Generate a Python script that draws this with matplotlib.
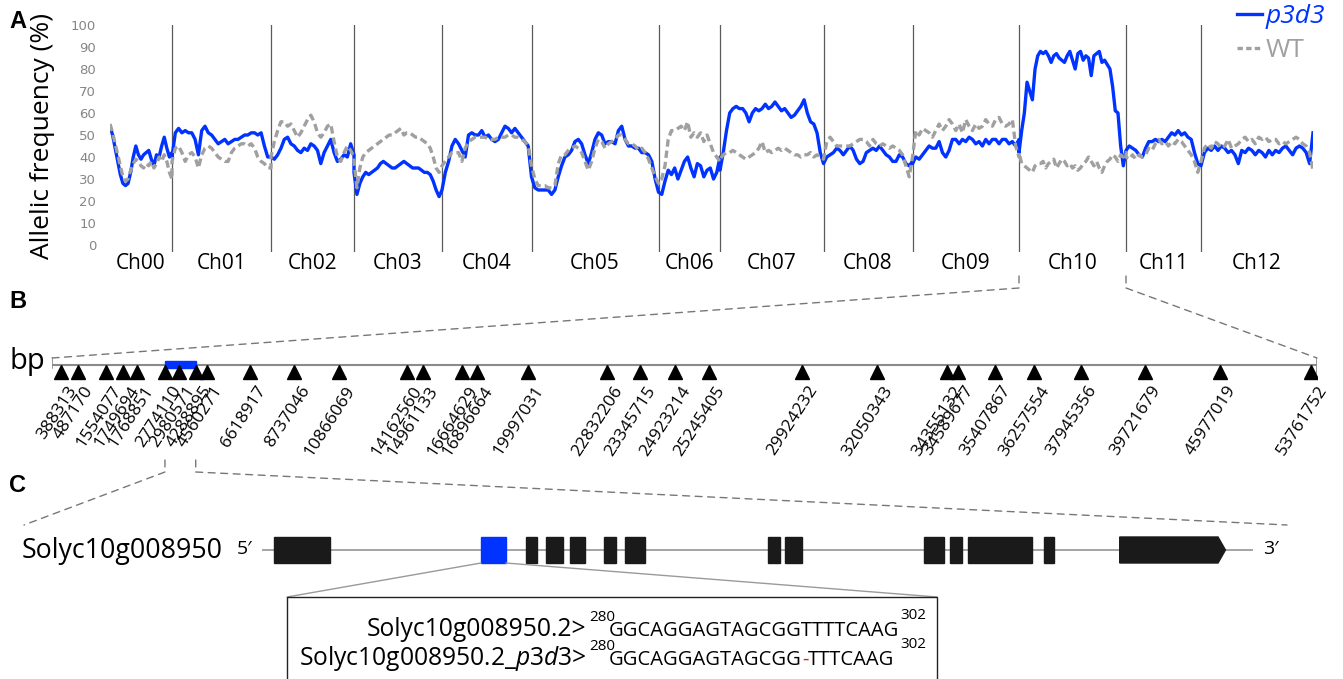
import numpy as np
import matplotlib
matplotlib.use('Agg')
import matplotlib.pyplot as plt
from matplotlib.patches import Rectangle, Polygon, ConnectionPatch
from matplotlib.lines import Line2D
from matplotlib import transforms

W, H = 1343, 679
plt.rcParams['font.family'] = ['Open Sans', 'DejaVu Sans']
plt.rcParams['mathtext.fontset'] = 'custom'
plt.rcParams['mathtext.rm'] = 'Open Sans'
plt.rcParams['mathtext.it'] = 'Open Sans:italic'

# ---------------- data ----------------
chrom_names = ['Ch00', 'Ch01', 'Ch02', 'Ch03', 'Ch04', 'Ch05', 'Ch06',
               'Ch07', 'Ch08', 'Ch09', 'Ch10', 'Ch11', 'Ch12']
chrom_lengths = [62, 99, 83, 88, 89.5, 127, 61.5, 103.5, 89, 106.5, 107, 75, 112]

p3d3_ch00 = [54, 50, 44, 38, 32, 28, 27, 28, 33, 40, 45, 41, 39, 41, 42, 43, 39, 36, 41, 40, 45, 49, 44, 40, 42]
wt_ch00 = [55, 51, 46, 41, 36, 31, 29, 30, 34, 37, 39, 38, 36, 35, 37, 36, 38, 35, 37, 40, 38, 41, 38, 33, 30]
p3d3_ch01 = [40, 51, 53, 51, 52, 51, 51, 48, 41, 52, 54, 51, 50, 48, 46, 47, 48, 46, 47, 48, 48, 49, 50, 50, 51, 51, 50, 51, 45, 40, 40]
wt_ch01 = [38, 44, 45, 42, 38, 41, 42, 40, 35, 41, 44, 45, 44, 42, 40, 39, 38, 38, 42, 44, 45, 46, 46, 45, 46, 44, 40, 38, 37, 35, 35]
p3d3_ch02 = [40, 39, 41, 44, 48, 49, 46, 45, 43, 42, 44, 43, 46, 45, 43, 37, 42, 45, 48, 42, 38, 39, 41, 40, 46, 41]
wt_ch02 = [40, 47, 52, 56, 56, 54, 55, 52, 49, 51, 54, 57, 59, 56, 51, 49, 51, 54, 55, 47, 40, 38, 42, 45, 43, 40]
p3d3_ch03 = [33, 23, 28, 31, 33, 32, 33, 34, 35, 37, 38, 37, 36, 35, 35, 36, 37, 38, 37, 36, 35, 35, 35, 34, 33, 33, 32, 29, 25, 22, 25]
wt_ch03 = [38, 26, 35, 40, 42, 43, 44, 45, 46, 47, 48, 49, 50, 50, 51, 52, 53, 50, 51, 51, 50, 49, 49, 48, 47, 46, 44, 40, 35, 33, 36]
p3d3_ch04 = [25, 33, 38, 45, 48, 46, 43, 40, 50, 51, 50, 50, 52, 49, 50, 48, 47, 48, 51, 54, 53, 51, 53, 51, 49, 47, 45, 31]
wt_ch04 = [36, 38, 40, 42, 42, 42, 38, 44, 47, 48, 49, 49, 49, 49, 48, 48, 48, 49, 49, 49, 50, 50, 49, 49, 48, 47, 45, 36]
p3d3_ch05 = [31, 26, 25, 25, 25, 25, 23, 25, 31, 36, 40, 41, 43, 47, 48, 46, 41, 37, 42, 48, 51, 50, 46, 47, 47, 46, 52, 54, 48, 45, 45, 44, 44, 42, 42, 41, 38, 30, 24]
wt_ch05 = [36, 30, 27, 27, 27, 26, 26, 27, 37, 41, 41, 43, 44, 45, 44, 42, 38, 34, 38, 44, 48, 47, 44, 46, 47, 48, 50, 50, 48, 46, 46, 45, 43, 44, 42, 39, 35, 31, 28]
p3d3_ch06 = [24, 23, 29, 34, 32, 35, 30, 34, 38, 40, 35, 31, 37, 36, 31, 34, 35, 30, 33, 40]
wt_ch06 = [29, 30, 36, 48, 52, 52, 53, 54, 52, 56, 49, 51, 49, 51, 47, 50, 46, 42, 40, 38]
p3d3_ch07 = [34, 42, 52, 60, 62, 63, 62, 62, 60, 56, 60, 62, 61, 62, 64, 62, 63, 65, 63, 61, 62, 60, 58, 59, 61, 63, 66, 60, 56, 55, 51, 42, 37]
wt_ch07 = [39, 41, 42, 42, 43, 42, 41, 40, 39, 40, 41, 42, 44, 47, 42, 43, 42, 43, 44, 43, 44, 43, 42, 41, 41, 40, 41, 41, 42, 40, 41, 40, 39]
p3d3_ch08 = [37, 40, 41, 42, 44, 43, 41, 43, 45, 43, 39, 37, 38, 42, 43, 44, 43, 45, 43, 41, 40, 38, 38, 41, 40, 37, 36, 38]
wt_ch08 = [39, 47, 49, 47, 45, 45, 45, 45, 45, 46, 47, 48, 48, 47, 45, 48, 46, 45, 46, 45, 44, 45, 44, 43, 41, 36, 31, 40]
p3d3_ch09 = [37, 40, 39, 41, 43, 45, 44, 44, 47, 42, 40, 43, 48, 48, 46, 48, 47, 49, 48, 46, 47, 45, 48, 46, 48, 48, 46, 48, 48, 46, 47, 45, 48]
wt_ch09 = [40, 52, 50, 53, 52, 51, 49, 52, 55, 52, 54, 57, 55, 52, 55, 51, 57, 54, 52, 55, 53, 54, 57, 55, 54, 57, 58, 55, 54, 55, 57, 45, 40]
p3d3_ch10 = [42, 52, 60, 74, 70, 66, 80, 86, 88, 87, 88, 86, 83, 86, 87, 85, 84, 83, 86, 88, 84, 80, 87, 88, 84, 86, 85, 77, 86, 87, 88, 83, 84, 82, 80, 72, 61, 60, 45, 36, 43]
wt_ch10 = [42, 37, 36, 35, 34, 33, 36, 37, 37, 38, 35, 37, 38, 39, 35, 37, 39, 38, 36, 37, 35, 36, 34, 35, 37, 38, 40, 38, 36, 38, 35, 33, 36, 38, 39, 41, 40, 38, 41, 40, 42]
p3d3_ch11 = [43, 45, 44, 43, 41, 40, 44, 47, 47, 48, 47, 48, 47, 49, 51, 50, 52, 50, 51, 49, 48, 42, 37, 36]
wt_ch11 = [40, 39, 41, 39, 41, 40, 41, 44, 43, 46, 48, 46, 47, 45, 47, 46, 48, 47, 45, 43, 41, 38, 33, 38]
p3d3_ch12 = [36, 42, 44, 43, 45, 43, 45, 44, 42, 43, 41, 37, 43, 42, 44, 43, 41, 43, 42, 40, 43, 41, 43, 42, 44, 45, 43, 41, 44, 45, 44, 42, 37, 51]
wt_ch12 = [38, 44, 46, 44, 47, 46, 44, 45, 48, 44, 45, 46, 48, 49, 47, 48, 46, 49, 48, 49, 47, 48, 48, 46, 47, 46, 47, 48, 49, 48, 46, 45, 42, 34]

marker_bp = ['388313', '487170', '1554077', '1749694', '1768851', '2774110', '2980571',
             '4288895', '4560271', '6618917', '8737046', '10866069', '14162560', '14961133',
             '16664629', '16896664', '19997031', '22832206', '23345715', '24923214', '25245405',
             '29924232', '32050343', '34355132', '34589677', '35407867', '36257554', '37945356',
             '39721679', '45977019', '53761752']
# schematic position of each marker along the drawn Ch10 map (% of map length)
marker_map_pos = [0.71, 2.03, 4.27, 5.64, 6.74, 8.93, 10.04, 11.36, 12.28, 15.65, 19.13,
                  22.69, 28.04, 29.30, 32.44, 33.62, 37.60, 43.85, 46.48, 49.25, 51.96,
                  59.31, 65.19, 70.73, 71.64, 74.55, 77.63, 81.32, 86.40, 92.33, 99.53]
candidate_first, candidate_last = 5, 7   # markers bounding the candidate region

gene_name = 'Solyc10g008950'
# exon coordinates along the gene schematic (0-1000)
exon_starts = [12.6, 221.0, 266.4, 287.0, 311.3, 345.1, 366.3, 510.6, 527.7, 668.0, 694.2, 712.4, 788.7, 865.5]
exon_ends = [69.0, 246.0, 277.1, 304.1, 325.7, 357.2, 386.5, 522.7, 544.9, 687.7, 706.4, 777.0, 799.0, 972.2]
mutated_exon = 1

seq_names = ['Solyc10g008950.2>', 'Solyc10g008950.2_$\\mathit{p3d3}$>']
seq_start, seq_end = '280', '302'
seq_wt = 'GGCAGGAGTAGCGGTTTTCAAG'
seq_mut_left, seq_mut_del, seq_mut_right = 'GGCAGGAGTAGCGG', '-', 'TTTCAAG'

p3d3_all = [p3d3_ch00, p3d3_ch01, p3d3_ch02, p3d3_ch03, p3d3_ch04, p3d3_ch05, p3d3_ch06,
            p3d3_ch07, p3d3_ch08, p3d3_ch09, p3d3_ch10, p3d3_ch11, p3d3_ch12]
wt_all = [wt_ch00, wt_ch01, wt_ch02, wt_ch03, wt_ch04, wt_ch05, wt_ch06,
          wt_ch07, wt_ch08, wt_ch09, wt_ch10, wt_ch11, wt_ch12]

# ---------------- helpers ----------------
def px_rect(x0, y0, x1, y1):
    return [x0 / W, 1 - y1 / H, (x1 - x0) / W, (y1 - y0) / H]

def fxy(x, y):
    return (x / W, 1 - y / H)

BLUE = '#0033ff'
GRAY = '#a0a0a0'

fig = plt.figure(figsize=(W / 100, H / 100), dpi=100)

# ---------------- panel A ----------------
axA = fig.add_axes(px_rect(110, 25, 1313, 251.6))
bounds = np.concatenate([[0], np.cumsum(chrom_lengths)])
xb, yb, xg, yg = [], [], [], []
for i in range(len(chrom_names)):
    xb.append(np.linspace(bounds[i], bounds[i + 1], len(p3d3_all[i])))
    yb.append(p3d3_all[i])
    xg.append(np.linspace(bounds[i], bounds[i + 1], len(wt_all[i])))
    yg.append(wt_all[i])
xb = np.concatenate(xb); yb = np.concatenate(yb)
xg = np.concatenate(xg); yg = np.concatenate(yg)

axA.set_xlim(bounds[0], bounds[-1])
axA.set_ylim(-3, 100)
for b in bounds[1:-1]:
    axA.axvline(b, color='#5a5a5a', lw=0.9, zorder=1)
axA.plot(xb, yb, color=BLUE, lw=2.4, zorder=3, solid_joinstyle='round')
axA.plot(xg, yg, color=GRAY, lw=2.4, ls=(0, (2.2, 1.2)), zorder=4)
for s in axA.spines.values():
    s.set_visible(False)
axA.set_yticks(range(0, 101, 10))
axA.set_yticklabels([str(v) for v in range(0, 101, 10)], color='#858585',
                    fontsize=9.5, family='DejaVu Sans')
axA.tick_params(axis='y', length=0, pad=10)
centers = (bounds[:-1] + bounds[1:]) / 2
axA.set_xticks(centers)
axA.set_xticklabels(chrom_names, fontsize=15)
axA.tick_params(axis='x', length=0, pad=1)
fig.text(*fxy(43, 136), 'Allelic frequency (%)', rotation=90, ha='center',
         va='center', fontsize=19)

handles = [Line2D([], [], color=BLUE, lw=2.4),
           Line2D([], [], color=GRAY, lw=2.4, ls=(0, (1.6, 1.0)))]
leg = axA.legend(handles, ['p3d3', 'WT'], loc='upper left',
                 bbox_to_anchor=fxy(1237, 4), bbox_transform=fig.transFigure,
                 frameon=False, fontsize=19, handlelength=0.95, handletextpad=0.12,
                 labelspacing=0.35, borderpad=0, borderaxespad=0)
leg.get_texts()[0].set_color(BLUE)
leg.get_texts()[0].set_style('italic')
leg.get_texts()[1].set_color(GRAY)

for lab, y in [('A', 22), ('B', 302), ('C', 485)]:
    fig.text(*fxy(9, y), lab, fontsize=17, weight='bold', family='Liberation Sans',
             va='center', ha='left')

# ---------------- panel B ----------------
axB = fig.add_axes(px_rect(52, 352, 1317, 392))
axB.set_xlim(0, 100)
axB.set_ylim(0, 40)
axB.axis('off')
axB.plot([0, 100], [27, 27], color='#8a8a8a', lw=1.5, zorder=1)
axB.plot([0, 0], [24, 34], color='#8a8a8a', lw=1.2)
axB.plot([100, 100], [19, 34], color='#8a8a8a', lw=1.2)
c0 = marker_map_pos[candidate_first]; c1 = marker_map_pos[candidate_last]
axB.add_patch(Rectangle((c0, 24), c1 - c0, 7, color=BLUE, zorder=2))
axB.plot(marker_map_pos, [19.5] * len(marker_map_pos), ls='none', marker='^',
         ms=10, color='black', zorder=3)
for p, lab in zip(marker_map_pos, marker_bp):
    axB.text(p + 0.45, 9, lab, rotation=57, ha='right', va='top',
             rotation_mode='anchor', fontsize=12.5)
fig.text(*fxy(45, 361), 'bp', ha='right', va='center', fontsize=21)

# connectors A -> B
bt = transforms.blended_transform_factory(axA.transData, fig.transFigure)
dash = dict(color='#777777', lw=1.0, ls=(0, (5, 4)))
for bx, tx in [(bounds[10], 0), (bounds[11], 100)]:
    fig.add_artist(ConnectionPatch(xyA=(bx, 1 - 276 / H), coordsA=bt,
                                   xyB=(bx, 1 - 288 / H), coordsB=bt, **dash))
    fig.add_artist(ConnectionPatch(xyA=(bx, 1 - 288 / H), coordsA=bt,
                                   xyB=(tx, 34), coordsB=axB.transData, **dash))

# connectors B -> C
btB = transforms.blended_transform_factory(axB.transData, fig.transFigure)
for bx, target in [(c0, fxy(24, 525)), (c1, fxy(1287, 525))]:
    fig.add_artist(ConnectionPatch(xyA=(bx, 1 - 460 / H), coordsA=btB,
                                   xyB=(bx, 1 - 472 / H), coordsB=btB, **dash))
    fig.add_artist(ConnectionPatch(xyA=(bx, 1 - 472 / H), coordsA=btB,
                                   xyB=target, coordsB=fig.transFigure, **dash))

# ---------------- panel C ----------------
axC = fig.add_axes(px_rect(262, 530, 1253, 570))
axC.set_xlim(0, 1000)
axC.set_ylim(0, 40)
axC.axis('off')
axC.plot([0, 1000], [20, 20], color='#8c8c8c', lw=1.1, zorder=1)
n_ex = len(exon_starts)
for i, (s, e) in enumerate(zip(exon_starts, exon_ends)):
    col = BLUE if i == mutated_exon else '#1a1a1a'
    if i == n_ex - 1:
        axC.add_patch(Polygon([(s, 7), (e - 7.5, 7), (e, 20), (e - 7.5, 33), (s, 33)],
                              closed=True, color=col, zorder=2))
    else:
        axC.add_patch(Rectangle((s, 7), e - s, 26, color=col, zorder=2))
fig.text(*fxy(223, 551), gene_name, ha='right', va='center', fontsize=19.3)
fig.text(*fxy(237, 549), '5\u2032', ha='left', va='center', fontsize=14,
         family=['Open Sans', 'DejaVu Sans'])
fig.text(*fxy(1263, 549), '3\u2032', ha='left', va='center', fontsize=14,
         family=['Open Sans', 'DejaVu Sans'])

# zoom lines to sequence box
zl = dict(color='#9a9a9a', lw=1.0)
fig.add_artist(ConnectionPatch(xyA=(exon_starts[mutated_exon], 7), coordsA=axC.transData,
                               xyB=fxy(287, 597), coordsB=fig.transFigure, **zl))
fig.add_artist(ConnectionPatch(xyA=(exon_ends[mutated_exon], 7), coordsA=axC.transData,
                               xyB=fxy(937, 597), coordsB=fig.transFigure, **zl))
box = Rectangle(fxy(287, 700), (937 - 287) / W, (700 - 597) / H, transform=fig.transFigure,
                fill=False, edgecolor='#222222', lw=1.0, clip_on=False)
fig.add_artist(box)

renderer = fig.canvas.get_renderer()

def put(x_px, y_px, s, **kw):
    t = fig.text(*fxy(x_px, y_px), s, **kw)
    bb = t.get_window_extent(renderer)
    return bb.x1  # display px

for row, base in enumerate([636, 665]):
    fig.text(*fxy(586, base), seq_names[row], ha='right', va='baseline', fontsize=17.7)
    put(589, base - 15, seq_start, ha='left', va='baseline', fontsize=11)
    if row == 0:
        put(609, base, seq_wt, ha='left', va='baseline', fontsize=14.5)
    else:
        x1 = put(609, base, seq_mut_left, ha='left', va='baseline', fontsize=14.5)
        x2 = put(x1, base, seq_mut_del, ha='left', va='baseline', fontsize=14.5, color='#e0201b')
        put(x2, base, seq_mut_right, ha='left', va='baseline', fontsize=14.5)
    put(900, base - 17, seq_end, ha='left', va='baseline', fontsize=11)

fig.savefig('out.png', dpi=100)
